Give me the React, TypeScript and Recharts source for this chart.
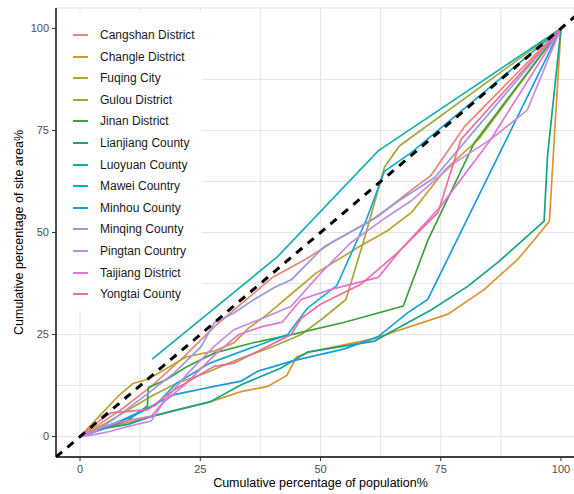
import React from 'react';
import { LineChart, Line, XAxis, YAxis, CartesianGrid } from 'recharts';

const seriesNames = [
  'Cangshan District', 'Changle District', 'Fuqing City', 'Gulou District', 'Jinan District',
  'Lianjiang County', 'Luoyuan County', 'Mawei Country', 'Minhou County', 'Minqing County',
  'Pingtan Country', 'Taijiang District', 'Yongtai County',
];

const seriesColors = [
  '#EC8577', '#DB9530', '#C2A032', '#A2A93A', '#3DA23E',
  '#16A481', '#17AFAE', '#16A9CF', '#1A9AE0', '#9A9AE2',
  '#C88BE3', '#E474D5', '#EC6E9C',
];

const cangshan = [[0,0],[4,3],[9,7],[15,12.5],[22,20],[28,27],[34,33],[40,39],[47,43.5],[53,48],[62,54],[69,60.5],[73,64],[80,76],[100,100]];
const changle = [[0,0],[5,2],[12,4],[20,6.5],[27,8.5],[33.5,11],[39,12.3],[43,15],[45,19.5],[48,20.8],[60.5,23.8],[76.5,30],[84,36],[91,43.4],[94.5,48.3],[97.6,52.8],[98.6,72.8],[100,100]];
const fuqing = [[0,0],[4,5],[8,10],[11,13],[14,14],[17,16],[22,19.5],[28,21],[32,23],[35,26.5],[39,30],[44,35],[49,40],[58,46.5],[64,50.5],[69,55],[76,65.5],[83,73],[100,100]];
const gulou = [[0,0],[5,3],[10,6.5],[15,10],[20,13],[26,15.5],[33,19],[40,22],[46,25],[50.5,29],[55.3,33.6],[59.5,50],[63.3,66],[66.4,71.2],[100,100]];
const jinan = [[0,0],[5,2],[10,4],[14,7.5],[14.2,12],[18,14],[22,17],[28,20.5],[36,23],[44,25],[55,28],[67.2,32],[72.3,48],[82,72],[100,100]];
const lianjiang = [[0,0],[5,2],[10,3],[15,5],[20,6.5],[27,8.5],[33.5,12.7],[41.8,16.8],[47.3,20.7],[61.2,23.4],[66.7,27],[73,31],[80.6,36.8],[87,42.8],[96.5,52.8],[97.2,68.7],[100,100]];
const luoyuan = [[15,19],[41,44],[62,70],[100,100]];
const mawei = [[0,0],[4,2],[10,4.5],[15.8,7.8],[20,13],[27,18],[35,21.5],[43.2,25],[47.3,31.5],[53.4,37],[59.5,53],[63.3,65],[68.8,69.5],[100,100]];
const minhou = [[0,0],[5,2],[12.7,6.2],[19.6,10.3],[27.9,12.3],[33.5,13.6],[36.9,16],[40.4,17.2],[44,18.5],[55,21.5],[62,24.5],[68.1,30.3],[72.3,33.6],[100,100]];
const minqing = [[0,0],[3,1],[6.4,3.8],[13.4,9.9],[19.6,15.6],[25.2,22.1],[27.9,27.9],[32,30.3],[36.2,33.6],[40.4,36.5],[44,38.5],[50.8,46.6],[59.8,52.4],[66.7,58.1],[73.7,63.4],[100,100]];
const pingtan = [[0,0],[3,0.5],[6.4,1.3],[10,2.5],[14.8,3.8],[17.5,8.7],[22,15],[27.9,22.1],[32,26.2],[38,29],[43.9,31.9],[50.1,40.1],[56.3,47.5],[64,54],[68.8,57.7],[77.8,67],[85.4,72.8],[93,80],[100,100]];
const taijiang = [[0,0],[4,2],[8,3.5],[14.8,5],[17,8],[22,13],[28,20],[33,25],[38,27],[42,28],[46,33.6],[52,36],[62,39],[66.7,45.8],[75,56.4],[85.4,72.8],[100,100]];
const yongtai = [[0,0],[3,3],[6.4,5.8],[14.1,6.6],[19.6,11.5],[27.9,17.2],[32,18],[39,22.1],[43.9,25],[46,29],[50,32.4],[58.4,37.3],[66,45],[74.4,54.8],[79.2,72.8],[100,100]];

const seriesPoints = [cangshan, changle, fuqing, gulou, jinan, lianjiang, luoyuan, mawei, minhou, minqing, pingtan, taijiang, yongtai];

const equalityLine = [[-5,-5],[105,105]];

const axisTicks = [0, 25, 50, 75, 100];
const gridValues = [0, 12.5, 25, 37.5, 50, 62.5, 75, 87.5, 100, 105];
const axisDomain = [-5, 105];

const xTitle = 'Cumulative percentage of population%';
const yTitle = 'Cumulative percentage of site area%';

const toRows = (pts: number[][]) => pts.map(([x, y]) => ({ x, y }));

const series = seriesNames.map((name, i) => ({ name, color: seriesColors[i], data: toRows(seriesPoints[i]) }));

const FONT = '"Liberation Sans", Arial, Helvetica, sans-serif';

const YTitle = (props: any) => {
  const vb = props.viewBox || {};
  const cy = 8 + 449 / 2;
  return (
    <text x={23} y={cy} transform={`rotate(-90 23 ${cy})`} textAnchor="middle" fontSize={12.5} fill="#000" fontFamily={FONT}>
      {yTitle}
    </text>
  );
};

export default function App() {
  return (
    <div style={{ position: 'absolute', left: 0, top: 0, width: 574, height: 494, overflow: 'hidden', background: '#fff' }}>
      <LineChart width={600} height={494} margin={{ top: 8, right: 15, left: 0, bottom: 0 }}>
        <CartesianGrid stroke="#E4E4E4" strokeWidth={1} horizontalValues={gridValues} verticalValues={gridValues} />
        <XAxis
          type="number"
          dataKey="x"
          domain={axisDomain}
          ticks={axisTicks}
          allowDataOverflow
          height={37}
          tickSize={4}
          tickMargin={4}
          tick={{ fontSize: 11, fill: '#4D4D4D', fontFamily: FONT }}
          axisLine={{ stroke: '#000', strokeWidth: 1.4 }}
          tickLine={{ stroke: '#333' }}
          label={{ value: xTitle, position: 'insideBottom', offset: 7, fill: '#000', fontSize: 12.5, fontFamily: FONT }}
        />
        <YAxis
          type="number"
          dataKey="y"
          domain={axisDomain}
          ticks={axisTicks}
          allowDataOverflow
          width={56}
          tickSize={4}
          tickMargin={3}
          tick={{ fontSize: 11, fill: '#4D4D4D', fontFamily: FONT }}
          axisLine={{ stroke: '#000', strokeWidth: 1.4 }}
          tickLine={{ stroke: '#333' }}
          label={<YTitle />}
        />
        {series.map((s) => (
          <Line
            key={s.name}
            data={s.data}
            dataKey="y"
            name={s.name}
            type="linear"
            stroke={s.color}
            strokeWidth={1.7}
            dot={false}
            activeDot={false}
            isAnimationActive={false}
          />
        ))}
        <Line
          data={toRows(equalityLine)}
          dataKey="y"
          type="linear"
          stroke="#000"
          strokeWidth={3}
          strokeDasharray="8 7"
          dot={false}
          activeDot={false}
          isAnimationActive={false}
        />
      </LineChart>
      <div style={{ position: 'absolute', left: 57, top: 12, width: 145, height: 299, background: '#fff', fontFamily: FONT }}>
        {series.map((s, i) => (
          <div key={s.name} style={{ position: 'absolute', left: 0, top: 23 + i * 21.6 - 12, height: 24, display: 'flex', alignItems: 'center' }}>
            <div style={{ marginLeft: 16, width: 15, height: 2, background: s.color }} />
            <span style={{ marginLeft: 12, fontSize: 12, color: '#1a1a1a', whiteSpace: 'nowrap' }}>{s.name}</span>
          </div>
        ))}
      </div>
    </div>
  );
}
